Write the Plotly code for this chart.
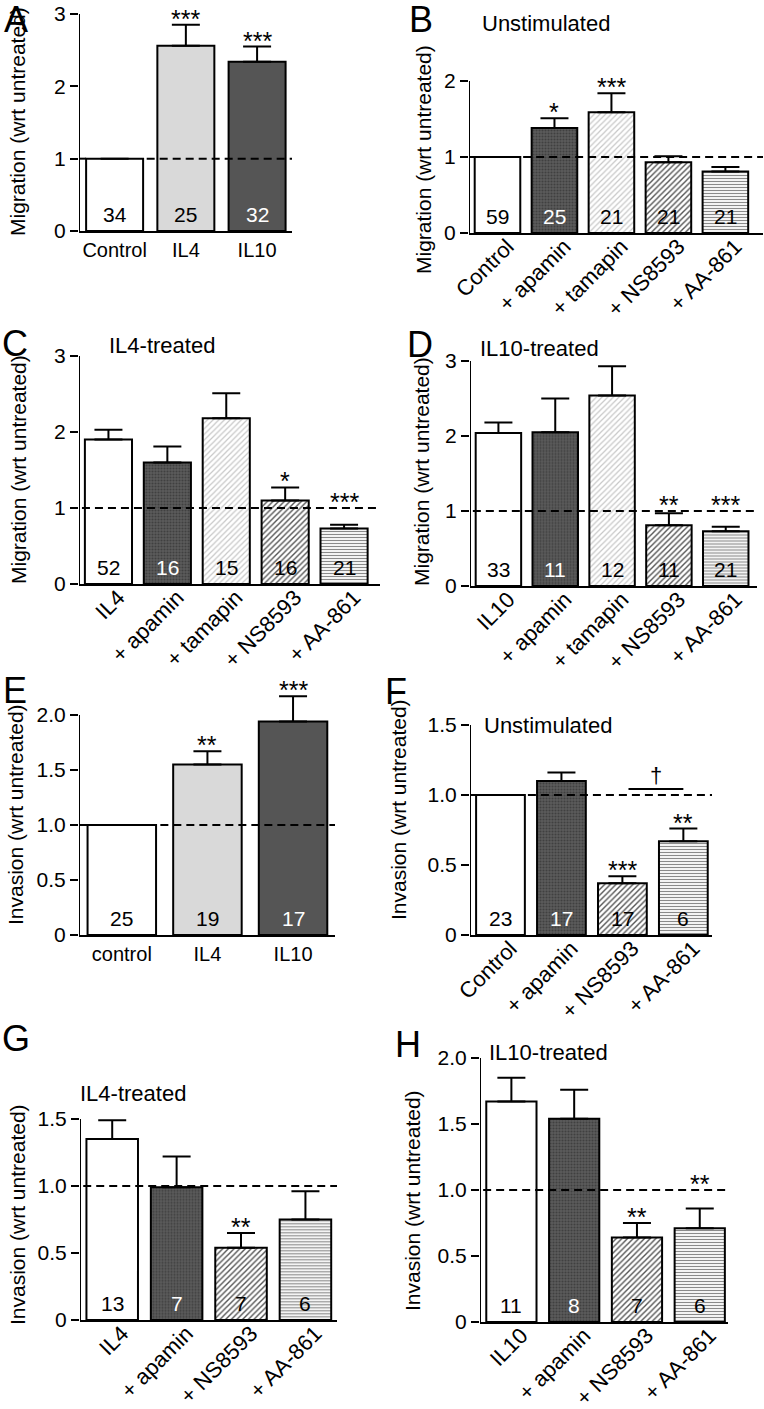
import plotly.graph_objects as go

# ---------------- data ----------------
A_labels = ["Control", "IL4", "IL10"]
A_mean = [1.00, 2.56, 2.34]
A_sem = [0, 0.29, 0.21]
A_n = ["34", "25", "32"]
A_sig = ["", "***", "***"]

B_labels = ["Control", "+ apamin", "+ tamapin", "+ NS8593", "+ AA-861"]
B_mean = [1.00, 1.38, 1.59, 0.93, 0.81]
B_sem = [0, 0.13, 0.25, 0.08, 0.06]
B_n = ["59", "25", "21", "21", "21"]
B_sig = ["", "*", "***", "", ""]

C_labels = ["IL4", "+ apamin", "+ tamapin", "+ NS8593", "+ AA-861"]
C_mean = [1.90, 1.60, 2.18, 1.10, 0.73]
C_sem = [0.13, 0.21, 0.33, 0.17, 0.05]
C_n = ["52", "16", "15", "16", "21"]
C_sig = ["", "", "", "*", "***"]

D_labels = ["IL10", "+ apamin", "+ tamapin", "+ NS8593", "+ AA-861"]
D_mean = [2.04, 2.05, 2.54, 0.81, 0.73]
D_sem = [0.14, 0.45, 0.39, 0.16, 0.06]
D_n = ["33", "11", "12", "11", "21"]
D_sig = ["", "", "", "**", "***"]

E_labels = ["control", "IL4", "IL10"]
E_mean = [1.00, 1.55, 1.94]
E_sem = [0, 0.12, 0.23]
E_n = ["25", "19", "17"]
E_sig = ["", "**", "***"]

F_labels = ["Control", "+ apamin", "+ NS8593", "+ AA-861"]
F_mean = [1.00, 1.10, 0.37, 0.67]
F_sem = [0, 0.06, 0.05, 0.09]
F_n = ["23", "17", "17", "6"]
F_sig = ["", "", "***", "**"]
F_pair = (2, 3)
F_pair_sig = "†"

G_labels = ["IL4", "+ apamin", "+ NS8593", "+ AA-861"]
G_mean = [1.35, 0.99, 0.54, 0.75]
G_sem = [0.14, 0.23, 0.11, 0.21]
G_n = ["13", "7", "7", "6"]
G_sig = ["", "", "**", ""]

H_labels = ["IL10", "+ apamin", "+ NS8593", "+ AA-861"]
H_mean = [1.67, 1.54, 0.64, 0.71]
H_sem = [0.18, 0.22, 0.11, 0.15]
H_n = ["11", "8", "7", "6"]
H_sig = ["", "", "**", "**"]

# ---------------- styling ----------------
W, H = 764, 1409
FONT = "Liberation Sans, Arial, sans-serif"

STYLE = {
    "open":    dict(bg="#ffffff", fg="#ffffff", shape="",  size=8, sol=0.3, txt="black"),
    "light":   dict(bg="#d9d9d9", fg="#d9d9d9", shape="",  size=8, sol=0.3, txt="black"),
    "dark":    dict(bg="#555555", fg="#555555", shape="",  size=8, sol=0.3, txt="white"),
    "apamin":  dict(bg="#5c5c5c", fg="#404040", shape=".", size=3, sol=0.4, txt="white"),
    "tamapin": dict(bg="#ffffff", fg="#c8c8c8", shape="/", size=4, sol=0.3, txt="black"),
    "ns":      dict(bg="#ffffff", fg="#555555", shape="/", size=4, sol=0.35, txt="black"),
    "aa":      dict(bg="#ffffff", fg="#8a8a8a", shape="-", size=3, sol=0.4, txt="black"),
}

def style_of(label, idx, simple):
    if idx == 0:
        return "open"
    if simple:
        return "light" if label == "IL4" else "dark"
    if "apamin" in label:
        return "apamin"
    if "tamapin" in label:
        return "tamapin"
    if "NS8593" in label:
        return "ns"
    return "aa"

PANELS = [
    dict(L="A", labels=A_labels, mean=A_mean, sem=A_sem, n=A_n, sig=A_sig, simple=True,
         box=(79, 14, 292, 231), yr=3, yt=[0, 1, 2, 3], ytt=["0", "1", "2", "3"], xmax=2.49,
         angle=0, ctrl=True, ytitle="Migration (wrt untreated)", yt_xy=(17, 122),
         letter_xy=(16, 20), title=None),
    dict(L="B", labels=B_labels, mean=B_mean, sem=B_sem, n=B_n, sig=B_sig, simple=False,
         box=(469, 81, 763, 233), yr=2, yt=[0, 1, 2], ytt=["0", "1", "2"], xmax=4.66,
         angle=-45, ctrl=True, ytitle="Migration (wrt untreated)", yt_xy=(423, 160),
         letter_xy=(421, 20), title="Unstimulated", title_xy=(480, 23)),
    dict(L="C", labels=C_labels, mean=C_mean, sem=C_sem, n=C_n, sig=C_sig, simple=False,
         box=(79, 356, 380, 584), yr=3, yt=[0, 1, 2, 3], ytt=["0", "1", "2", "3"], xmax=4.61,
         angle=-45, ctrl=False, ytitle="Migration (wrt untreated)", yt_xy=(19, 470),
         letter_xy=(15, 343), title="IL4-treated", title_xy=(107, 346)),
    dict(L="D", labels=D_labels, mean=D_mean, sem=D_sem, n=D_n, sig=D_sig, simple=False,
         box=(470, 361, 757, 586), yr=3, yt=[0, 1, 2, 3], ytt=["0", "1", "2", "3"], xmax=4.55,
         angle=-45, ctrl=False, ytitle="Migration (wrt untreated)", yt_xy=(422, 472),
         letter_xy=(420, 345), title="IL10-treated", title_xy=(478, 348)),
    dict(L="E", labels=E_labels, mean=E_mean, sem=E_sem, n=E_n, sig=E_sig, simple=True,
         box=(79, 715, 335, 935), yr=2, yt=[0, 0.5, 1, 1.5, 2], ytt=["0", "0.5", "1.0", "1.5", "2.0"],
         xmax=2.49, angle=0, ctrl=True, ytitle="Invasion (wrt untreated)", yt_xy=(15, 815),
         letter_xy=(15, 690), title=None),
    dict(L="F", labels=F_labels, mean=F_mean, sem=F_sem, n=F_n, sig=F_sig, simple=False,
         box=(470, 725, 712, 935), yr=1.5, yt=[0, 0.5, 1, 1.5], ytt=["0", "0.5", "1.0", "1.5"],
         xmax=3.47, angle=-45, ctrl=True, ytitle="Invasion (wrt untreated)", yt_xy=(398, 810),
         letter_xy=(396, 691), title="Unstimulated", title_xy=(482, 725)),
    dict(L="G", labels=G_labels, mean=G_mean, sem=G_sem, n=G_n, sig=G_sig, simple=False,
         box=(80, 1119, 337, 1320), yr=1.5, yt=[0, 0.5, 1, 1.5], ytt=["0", "0.5", "1.0", "1.5"],
         xmax=3.49, angle=-45, ctrl=False, ytitle="Invasion (wrt untreated)", yt_xy=(17, 1215),
         letter_xy=(16, 1038), title="IL4-treated", title_xy=(78, 1093)),
    dict(L="H", labels=H_labels, mean=H_mean, sem=H_sem, n=H_n, sig=H_sig, simple=False,
         box=(480, 1058, 728, 1322), yr=2, yt=[0, 0.5, 1, 1.5, 2], ytt=["0", "0.5", "1.0", "1.5", "2.0"],
         xmax=3.45, angle=-45, ctrl=False, ytitle="Invasion (wrt untreated)", yt_xy=(412, 1200),
         letter_xy=(408, 1044), title="IL10-treated", title_xy=(487, 1052)),
]

fig = go.Figure()
annotations = []
shapes = []
layout = dict(template="none", width=W, height=H, margin=dict(l=0, r=0, t=0, b=0, pad=0),
              showlegend=False, paper_bgcolor="white", plot_bgcolor="rgba(0,0,0,0)",
              barmode="overlay",
              font=dict(family=FONT, size=22, color="black"))

XMIN = -0.5
for k, p in enumerate(PANELS, start=1):
    s = "" if k == 1 else str(k)
    xr, yr_ = f"x{s}", f"y{s}"
    n = len(p["labels"])
    styles = [STYLE[style_of(lab, i, p["simple"])] for i, lab in enumerate(p["labels"])]
    # one trace per bar so each pattern is set with scalar attributes
    for i, st in enumerate(styles):
        fig.add_trace(go.Bar(
            x=[i], y=[p["mean"][i]], width=0.8, xaxis=xr, yaxis=yr_,
            marker=dict(
                color=st["bg"],
                line=dict(color="black", width=2),
                pattern=dict(shape=st["shape"], fgcolor=st["fg"], bgcolor=st["bg"],
                             size=st["size"], solidity=st["sol"],
                             fillmode="replace", fgopacity=1),
            ),
            error_y=dict(type="data", symmetric=False, array=[p["sem"][i]], arrayminus=[0],
                         color="black", thickness=2, width=14),
            hoverinfo="skip",
        ))
    L, T, R, B = p["box"]
    scale = (B - T) / p["yr"]                      # px per unit
    tops = [m + e for m, e in zip(p["mean"], p["sem"])]
    ytop = max(p["yr"], max(tops) + 0.03 * p["yr"])  # room for error bars above last tick
    top_px = B - ytop * scale
    horiz = p["angle"] == 0
    layout[f"xaxis{s}"] = dict(
        domain=[L / W, R / W], range=[XMIN, p["xmax"]], anchor=yr_, automargin=False,
        showline=True, linewidth=2, linecolor="black", ticks="",
        tickvals=list(range(n)), ticktext=p["labels"], tickangle=p["angle"],
        tickfont=dict(family=FONT, size=20 if horiz else 22, color="black"),
        ticklabelstandoff=0 if horiz else -10, ticklabelshift=0 if horiz else 10,
        showgrid=False, zeroline=False, fixedrange=True)
    layout[f"yaxis{s}"] = dict(
        domain=[1 - B / H, 1 - top_px / H], range=[0, ytop], anchor=xr, automargin=False,
        showline=False, ticks="outside", ticklen=8, tickwidth=2, tickcolor="black",
        tickvals=p["yt"], ticktext=p["ytt"],
        tickfont=dict(family=FONT, size=21, color="black"),
        showgrid=False, zeroline=False, fixedrange=True)
    # y axis line stops at the last tick
    shapes.append(dict(type="line", xref=xr, yref=yr_, x0=XMIN, x1=XMIN, y0=0, y1=p["yr"],
                       line=dict(color="black", width=2)))

    # reference line at 1
    if p["ctrl"]:
        shapes.append(dict(type="line", xref=xr, yref=yr_, x0=XMIN, x1=-0.4, y0=1, y1=1,
                           line=dict(color="black", width=2)))
        dx0 = 0.45
    else:
        dx0 = XMIN + 0.05
    shapes.append(dict(type="line", xref=xr, yref=yr_, x0=dx0, x1=p["xmax"], y0=1, y1=1,
                       line=dict(color="black", width=2, dash="8px,5px")))

    # n labels inside bars
    for i, (lab, st) in enumerate(zip(p["n"], styles)):
        annotations.append(dict(x=i, y=0, xref=xr, yref=yr_, text=lab, showarrow=False,
                                yanchor="bottom", yshift=3,
                                font=dict(family=FONT, size=21, color=st["txt"])))
    # significance stars
    for i, sg in enumerate(p["sig"]):
        if not sg:
            continue
        level = 1.0 if 0.77 <= tops[i] < 1.0 else tops[i]
        annotations.append(dict(x=i, y=level, xref=xr, yref=yr_,
                                text=sg, showarrow=False, yanchor="bottom", yshift=-10,
                                font=dict(family=FONT, size=25, color="black")))
    # panel letter
    lx, ly = p["letter_xy"]
    annotations.append(dict(x=lx / W, y=1 - ly / H, xref="paper", yref="paper", text=p["L"],
                            showarrow=False, xanchor="center", yanchor="middle",
                            font=dict(family=FONT, size=36, color="black")))
    # y title
    tx, ty = p["yt_xy"]
    annotations.append(dict(x=tx / W, y=1 - ty / H, xref="paper", yref="paper", text=p["ytitle"],
                            showarrow=False, textangle=-90, xanchor="center", yanchor="middle",
                            font=dict(family=FONT, size=21, color="black")))
    if p["title"]:
        px_, py_ = p["title_xy"]
        annotations.append(dict(x=px_ / W, y=1 - py_ / H, xref="paper", yref="paper",
                                text=p["title"], showarrow=False, xanchor="left", yanchor="middle",
                                font=dict(family=FONT, size=22, color="black")))
    if p["L"] == "F":
        a, b = F_pair
        shapes.append(dict(type="line", xref=xr, yref=yr_, x0=a + 0.1, x1=b, y0=6, y1=6,
                           ysizemode="pixel", yanchor=1.0,
                           line=dict(color="black", width=2)))
        annotations.append(dict(x=(a + 0.1 + b) / 2, y=1.0, xref=xr, yref=yr_, text=F_pair_sig,
                                showarrow=False, yanchor="bottom", yshift=5,
                                font=dict(family=FONT, size=22, color="black")))

layout["annotations"] = annotations
layout["shapes"] = shapes
fig.update_layout(**layout)
fig.write_html("out.html", config={"responsive": False, "displayModeBar": False},
               post_script="document.body.style.margin='0px';document.body.style.padding='0px';")
